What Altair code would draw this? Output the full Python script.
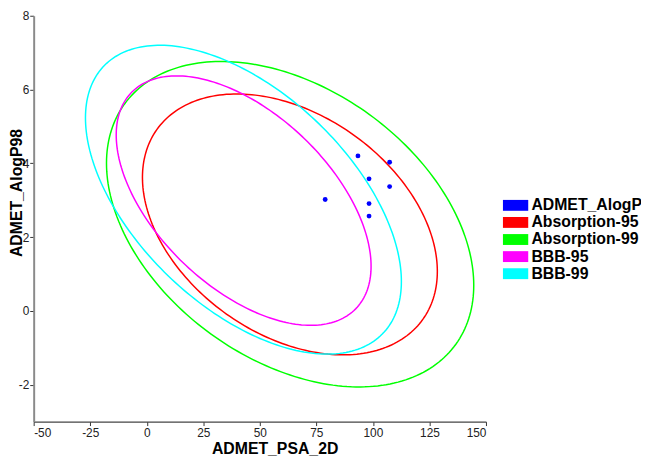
import altair as alt
import numpy as np
import pandas as pd

# ---- data ----
psa_2d = [93.4, 107.4, 98.3, 107.4, 78.9, 98.3, 98.3]
alogp98 = [4.20, 4.03, 3.58, 3.37, 3.02, 2.91, 2.57]

series = ["ADMET_AlogP", "Absorption-95", "Absorption-99", "BBB-95", "BBB-99"]
colors = ["#0000ff", "#ff0000", "#00ff00", "#ff00ff", "#00ffff"]

# confidence ellipses: centre, half-extent in x / y, and phase (cos) of the tilt
ellipse_names = ["Absorption-95", "Absorption-99", "BBB-95", "BBB-99"]
ellipse_cx = [63.3, 63.4, 42.85, 42.75]
ellipse_cy = [2.345, 2.35, 2.99, 3.015]
ellipse_ax = [65.2, 81.2, 56.35, 69.85]
ellipse_ay = [3.535, 4.41, 3.38, 4.185]
ellipse_cos = [-0.36, -0.375, -0.526, -0.53]

x_ticks = [-50, -25, 0, 25, 50, 75, 100, 125, 150]
y_ticks = [-2, 0, 2, 4, 6, 8]

# ---- build tables ----
rows = []
t = np.linspace(0, 2 * np.pi, 241)
for name, cx, cy, ax, ay, c in zip(ellipse_names, ellipse_cx, ellipse_cy,
                                   ellipse_ax, ellipse_ay, ellipse_cos):
    phi = np.arccos(c)
    for i, tt in enumerate(t):
        rows.append({"series": name, "order": i,
                     "x": cx + ax * np.cos(tt), "y": cy + ay * np.cos(tt + phi)})
ell_df = pd.DataFrame(rows)
pts_df = pd.DataFrame({"x": psa_2d, "y": alogp98, "series": "ADMET_AlogP"})

FONT = "Liberation Sans"
color_scale = alt.Scale(domain=series, range=colors)

x_enc = alt.X("x:Q", scale=alt.Scale(domain=[-50, 150], nice=False, zero=False),
              axis=alt.Axis(values=x_ticks, title="ADMET_PSA_2D",
                            labelExpr="'' + datum.value",
                            titleX=244, titleY=27, titleAlign="center",
                            titleBaseline="middle",
                            domainColor="#444", domainWidth=1.2,
                            tickColor="#333", tickSize=4, labelPadding=2))
y_enc = alt.Y("y:Q", scale=alt.Scale(domain=[-3, 8], nice=False, zero=False),
              axis=alt.Axis(values=y_ticks, title="ADMET_AlogP98",
                            labelExpr="'' + datum.value",
                            titleX=-17, titleY=179, titleAlign="center",
                            titleBaseline="middle", titleAngle=270,
                            domainColor="#8a8a8a", domainWidth=2,
                            tickColor="#333", tickSize=4, labelPadding=1))

lines = alt.Chart(ell_df).mark_line(strokeWidth=1.5).encode(
    x=x_enc, y=y_enc,
    color=alt.Color("series:N", scale=color_scale, legend=None),
    detail="series:N",
    order="order:Q",
)

points = alt.Chart(pts_df).mark_circle(size=24, opacity=1).encode(
    x=x_enc, y=y_enc,
    color=alt.Color("series:N", scale=color_scale,
                    legend=alt.Legend(title=None, orient="none",
                                      legendX=480, legendY=184,
                                      symbolType="M-2,-0.86L2,-0.86L2,0.86L-2,0.86Z",
                                      symbolSize=164, symbolStrokeWidth=0,
                                      symbolOpacity=1,
                                      labelFont=FONT, labelFontSize=16,
                                      labelFontWeight="bold", labelColor="#000",
                                      labelOffset=8, rowPadding=1.3, padding=0,
                                      labelLimit=400)),
)

chart = alt.layer(lines, points).resolve_legend(color="independent").properties(
    width=458, height=411,
    padding={"left": 26, "top": 5, "right": 157, "bottom": 34},
    autosize=alt.AutoSizeParams(type="none"),
).configure_view(stroke=None).configure_axis(
    grid=False,
    labelFont=FONT, labelFontSize=12, labelColor="#222",
    titleFont=FONT, titleFontSize=16, titleFontWeight="bold", titleColor="#000",
)

chart.save("out.html", embed_options={"renderer": "svg", "actions": False})
